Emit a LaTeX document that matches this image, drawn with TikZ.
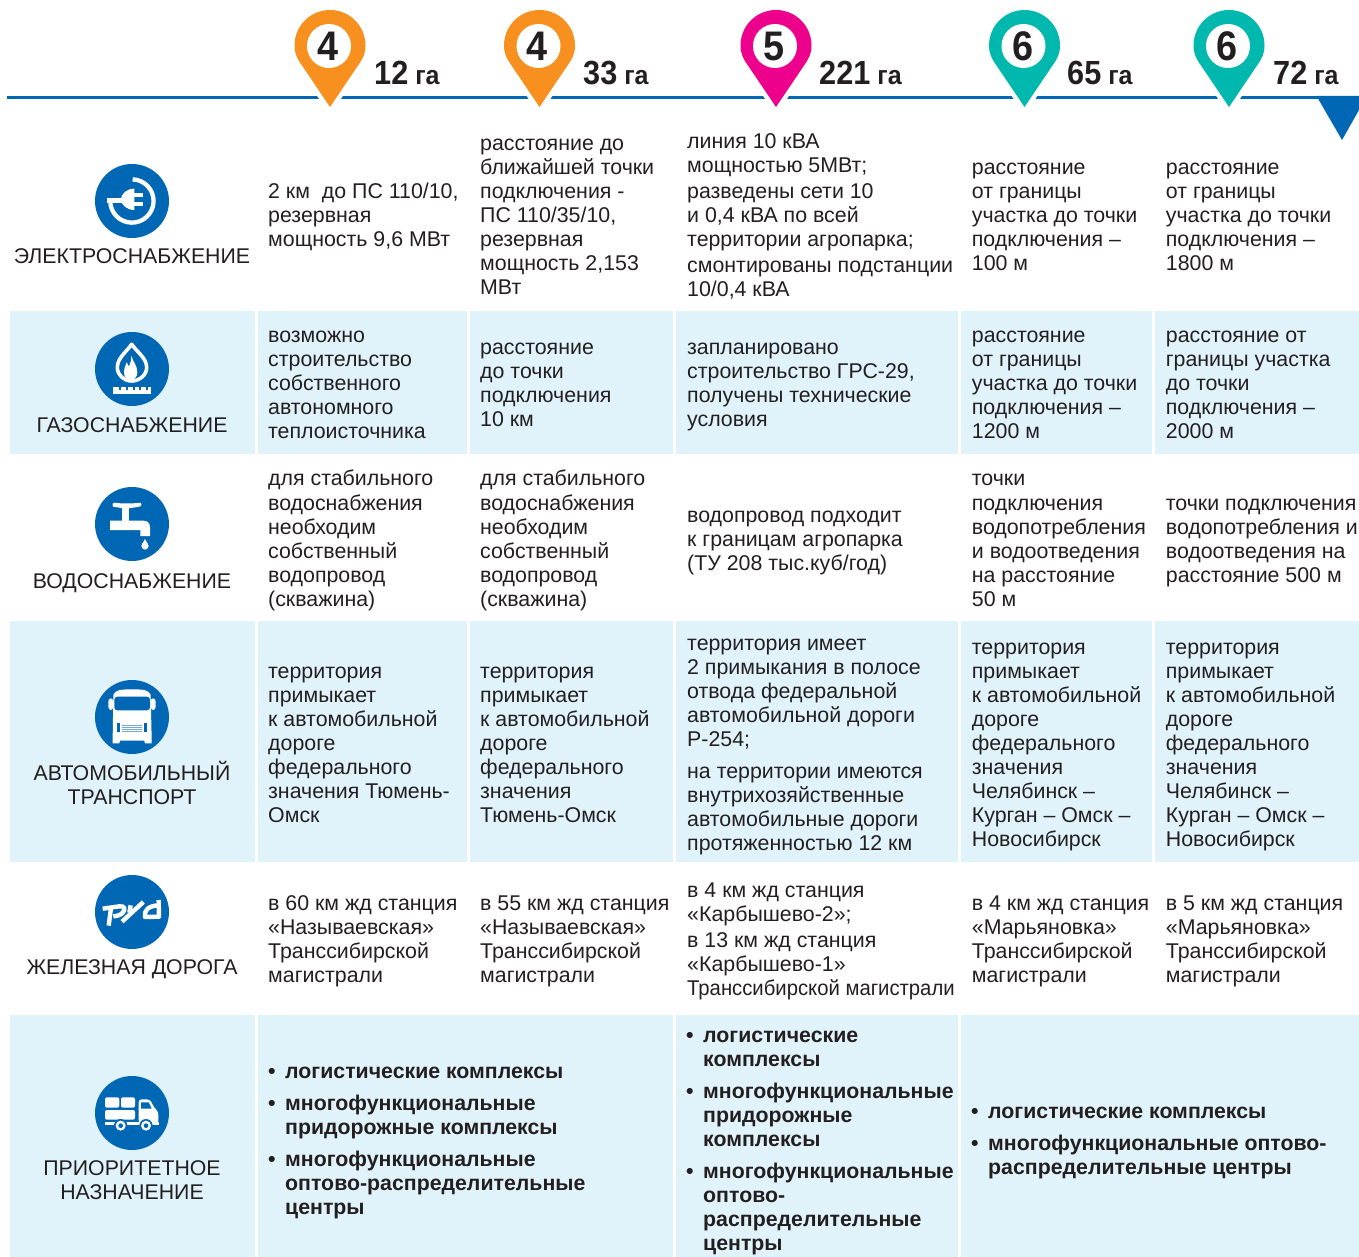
\documentclass[tikz,border=0pt]{standalone}
\usepackage{fontspec}
\setmainfont{Liberation Sans}
\definecolor{blu}{HTML}{0067B5}
\definecolor{lbl}{HTML}{E0F3FA}
\definecolor{ink}{HTML}{231F20}
\definecolor{org}{HTML}{F7901E}
\definecolor{mag}{HTML}{EC008C}
\definecolor{tea}{HTML}{00B8AD}
\newcommand{\tb}[4]{\node[tx] (#1) at (#2,#3-9.3) {\strut #4};}
\newcommand{\bl}[4]{\node[btx] (#1b) at (#2,#3-9.3) {\strut •}; \node[btx] (#1) at (#2+17,#3-9.3) {\strut #4};}
\newcommand{\rl}[3]{\node[rlab] (#1) at (132,#2) {#3};}
\newcommand{\pin}[7]{%
 \begin{scope}[shift={(#2,45.5)}]
 \fill[#3,preaction={draw=white,line width=9pt}] (0,61.5) -- (-28,20) .. controls (-33,13) and (-35.5,8) .. (-35.5,0) arc[start angle=180,end angle=360,radius=35.5] .. controls (35.5,8) and (33,13) .. (28,20) -- cycle;
 \node[circle,fill=white,minimum size=44pt,inner sep=0] (#1c) at (-1,0.5) {};
 \node[dig] (#1d) at (#7,0.5) {\scalebox{.97}[1.06]{#4}};
 \end{scope}
 \node[anchor=base west,inner sep=0,text=ink,font=\fontsize{31}{31}\selectfont\bfseries] (#1a) at (#5,85) {\scalebox{.99}[1.08]{#6}\fontsize{25}{25}\selectfont\ \scalebox{1}[1.05]{га}};
}
\tikzset{
 tx/.style={anchor=north west,inner sep=0,align=left,text=ink,font=\fontsize{21.35}{24}\selectfont},
 btx/.style={tx,font=\fontsize{21.3}{24}\selectfont\bfseries},
 rlab/.style={inner sep=0,align=center,text=ink,font=\fontsize{21.3}{24}\selectfont},
 dig/.style={inner sep=0,text=ink,font=\fontsize{39}{39}\selectfont\bfseries},
 cellbg/.style={fill=lbl},
 wl/.style={draw=white,line width=4.4pt},
}
\begin{document}
\begin{tikzpicture}[x=1pt,y=-1pt]
\useasboundingbox (0,0) rectangle (1359,1257);
\fill[white] (0,0) rectangle (1359,1257);
% header
\draw[blu,line width=3pt] (7,97.5) -- (1320,97.5);
\fill[blu] (1316.5,96) -- (1359,96) -- (1359,110) -- (1342,140) -- cycle;
\pin{p1}{330}{org}{4}{374}{12}{-2}
\pin{p2}{539.5}{org}{4}{583}{33}{-2}
\pin{p3}{776}{mag}{5}{819}{221}{-1.5}
\pin{p4}{1024.5}{tea}{6}{1067}{65}{-1.5}
\pin{p5}{1229}{tea}{6}{1273}{72}{-1.5}
% shaded rows
\foreach \a/\b in {10/255,258/467,470/673,676/958,961/1152,1155/1359}{
 \fill[cellbg] (\a,311) rectangle (\b,454);
 \fill[cellbg] (\a,621) rectangle (\b,862);}
\foreach \a/\b in {10/255,258/673,676/958,961/1359}{
 \fill[cellbg] (\a,1015) rectangle (\b,1257);}
% electricity icon
\fill[blu] (132,201) circle (37);
\begin{scope}[shift={(80,155)},scale=1/3]
 \draw[white,line width=4.3pt] (158,73) arc[start angle=-88,end angle=180,radius=65];
 \fill[white] (82,129) -- (128,129) -- (128,145) -- (82,145) -- cycle;
 \fill[white] (163,101) -- (163,165) .. controls (140,165) and (125,150) .. (122,133) .. controls (125,116) and (140,101) .. (163,101) -- cycle;
 \fill[white] (163,115) rectangle (188,126);
 \fill[white] (163,141) rectangle (188,152);
\end{scope}
% gas icon
\fill[blu] (132,369) circle (37);
\begin{scope}[shift={(80,325)},scale=1/3]
 \draw[white,line width=3.6pt,line join=round] (155,58) .. controls (135,85) and (112,100) .. (112,128) .. controls (112,150) and (132,168) .. (155,168) .. controls (178,168) and (200,150) .. (200,128) .. controls (200,100) and (175,85) .. (155,58) -- cycle;
 \fill[white] (154,92) .. controls (158,110) and (172,120) .. (172,142) .. controls (172,156) and (162,166) .. (152,166) .. controls (141,166) and (132,156) .. (132,142) .. controls (132,130) and (137,122) .. (140,112) .. controls (143,118) and (146,122) .. (147,125) .. controls (151,115) and (154,105) .. (154,92) -- cycle;
 \fill[white] (100,185) rectangle (213,208);
 \foreach \i in {1,...,5}{\fill[blu] (96+\i*20.6,185) rectangle (102+\i*20.6,196);}
\end{scope}
% water icon
\fill[blu] (132,524) circle (37);
\begin{scope}[shift={(80,480)},scale=1/3]
 \fill[white,rounded corners=2pt] (98,67) .. controls (115,70) and (125,70) .. (140,70) .. controls (155,70) and (170,70) .. (184,67) -- (184,80) .. controls (170,80) and (160,84) .. (147,84) -- (128,84) .. controls (120,84) and (110,80) .. (98,82) -- cycle;
 \fill[white] (127,82) rectangle (147,124);
 \fill[white] (90,122) -- (190,122) .. controls (203,122) and (210,130) .. (210,142) -- (210,168) -- (181,168) -- (181,150) -- (90,150) -- cycle;
 \fill[white] (195,177) .. controls (190,188) and (184,192) .. (184,198) .. controls (184,204) and (190,209) .. (195,209) .. controls (200,209) and (206,204) .. (206,198) .. controls (206,192) and (200,188) .. (195,177) -- cycle;
\end{scope}
% truck icon
\fill[blu] (132,717) circle (37);
\begin{scope}[shift={(80,675)},scale=1/3]
 \fill[white,rounded corners=3pt] (85,70) rectangle (100,105);
 \fill[white,rounded corners=3pt] (212,70) rectangle (227,105);
 \fill[white] (100,60) .. controls (105,45) and (120,43) .. (156,43) .. controls (192,43) and (207,45) .. (212,60) -- (215,190) -- (215,205) -- (195,205) -- (193,197) -- (120,197) -- (118,205) -- (98,205) -- (98,190) -- cycle;
 \fill[blu,rounded corners=3pt] (103,65) rectangle (210,106);
 \fill[blu] (110,143) rectangle (120,170);
 \fill[blu] (192,143) rectangle (202,170);
 \foreach \y in {149,155,161,167}{\fill[blu!55] (126,\y) rectangle (187,\y+3);}
\end{scope}
% rail icon
\fill[blu] (132,912) circle (37);
\begin{scope}[shift={(80,870)},scale=1/3]
 \draw[wl] (68,116) -- (118,109) .. controls (135,107) and (136,118) .. (129,127) .. controls (123,135) and (112,138) .. (100,139);
 \draw[wl] (93,114) -- (86,167);
 \draw[wl] (126,155) -- (190,96);
 \draw[wl] (152,106) -- (148,128);
 \draw[wl,line join=round] (236,90) -- (237,140) -- (195,141) .. controls (191,122) and (205,107) .. (236,106);
\end{scope}
% priority icon
\fill[blu] (132,1113) circle (37);
\begin{scope}[shift={(80,1070)},scale=1/3]
 \fill[white,rounded corners=2pt] (75,82) rectangle (118,113);
 \fill[white,rounded corners=2pt] (123,82) rectangle (165,113);
 \fill[white,rounded corners=2pt] (75,120) rectangle (165,149);
 \fill[white] (75,155) rectangle (238,165);
 \fill[white,rounded corners=3pt] (176,88) -- (210,88) -- (222,112) -- (235,125) -- (235,160) -- (176,160) -- cycle;
 \fill[blu] (183,97) -- (206,97) -- (215,116) -- (183,116) -- cycle;
 \foreach \x in {122,198}{
  \fill[blu] (\x,167) circle (20);
  \fill[white] (\x,167) circle (15);
  \fill[blu] (\x,167) circle (7);}
\end{scope}
% row labels
\rl{l1}{258.9}{\strut ЭЛЕКТРОСНАБЖЕНИЕ}
\rl{l2}{427.9}{\strut ГАЗОСНАБЖЕНИЕ}
\rl{l3}{583.9}{\strut ВОДОСНАБЖЕНИЕ}
\rl{l4}{786.9}{\strut АВТОМОБИЛЬНЫЙ\\\strut ТРАНСПОРТ}
\rl{l5}{969.9}{\strut ЖЕЛЕЗНАЯ ДОРОГА}
\rl{l6}{1182.9}{\strut ПРИОРИТЕТНОЕ\\\strut НАЗНАЧЕНИЕ}
% row 1
\tb{a1}{268}{191}{2 км\ \ до ПС 110/10,\\резервная\\мощность 9,6 МВт}
\tb{a2}{480}{143}{расстояние до\\ближайшей точки\\подключения -\\ПС 110/35/10,\\резервная\\мощность 2,153\\МВт}
\tb{a3}{687}{141}{линия 10 кВА\\мощностью 5МВт;}
\tb{a3x}{687}{191}{разведены сети 10\\и 0,4 кВА по всей\\территории агропарка;}
\tb{a3y}{687}{265}{смонтированы подстанции\\10/0,4 кВА}
\tb{a4}{971.7}{167}{расстояние\\от границы\\участка до точки\\подключения –\\100 м}
\tb{a5}{1165.7}{167}{расстояние\\от границы\\участка до точки\\подключения –\\1800 м}
% row 2
\tb{b1}{268}{335}{возможно\\строительство\\собственного\\автономного\\теплоисточника}
\tb{b2}{480}{347}{расстояние\\до точки\\подключения\\10 км}
\tb{b3}{687}{347}{запланировано\\строительство ГРС-29,\\получены технические\\условия}
\tb{b4}{971.7}{335}{расстояние\\от границы\\участка до точки\\подключения –\\1200 м}
\tb{b5}{1165.7}{335}{расстояние от\\границы участка\\до точки\\подключения –\\2000 м}
% row 3
\tb{c1}{268}{478}{для стабильного}
\tb{c1x}{268}{503}{водоснабжения\\необходим\\собственный\\водопровод\\(скважина)}
\tb{c2}{480}{478}{для стабильного}
\tb{c2x}{480}{503}{водоснабжения\\необходим\\собственный\\водопровод\\(скважина)}
\tb{c3}{687}{515}{водопровод подходит\\к границам агропарка\\(ТУ 208 тыс.куб/год)}
\tb{c4}{971.7}{478}{точки}
\tb{c4x}{971.7}{503}{подключения\\водопотребления\\и водоотведения\\на расстояние\\50 м}
\tb{c5}{1165.7}{503}{точки подключения\\водопотребления и\\водоотведения на\\расстояние 500 м}
% row 4
\tb{d1}{268}{671}{территория\\примыкает\\к автомобильной\\дороге\\федерального\\значения Тюмень-\\Омск}
\tb{d2}{480}{671}{территория\\примыкает\\к автомобильной\\дороге\\федерального\\значения\\Тюмень-Омск}
\tb{d3}{687}{643}{территория имеет\\2 примыкания в полосе\\отвода федеральной\\автомобильной дороги\\Р-254;}
\tb{d3x}{687}{771}{на территории имеются\\внутрихозяйственные\\автомобильные дороги\\протяженностью 12 км}
\tb{d4}{971.7}{647}{территория\\примыкает\\к автомобильной\\дороге\\федерального\\значения\\Челябинск –\\Курган – Омск –\\Новосибирск}
\tb{d5}{1165.7}{647}{территория\\примыкает\\к автомобильной\\дороге\\федерального\\значения\\Челябинск –\\Курган – Омск –\\Новосибирск}
% row 5
\tb{e1}{268}{903}{в 60 км жд станция\\«Называевская»\\Транссибирской\\магистрали}
\tb{e2}{480}{903}{в 55 км жд станция\\«Называевская»\\Транссибирской\\магистрали}
\tb{e3}{687}{890}{в 4 км жд станция\\«Карбышево-2»;}
\tb{e3x}{687}{940}{в 13 км жд станция\\«Карбышево-1»\\\scalebox{.95}[1]{Транссибирской магистрали}}
\tb{e4}{971.7}{903}{в 4 км жд станция\\«Марьяновка»\\Транссибирской\\магистрали}
\tb{e5}{1165.7}{903}{в 5 км жд станция\\«Марьяновка»\\Транссибирской\\магистрали}
% row 6
\bl{f1}{268}{1071}{логистические комплексы}
\bl{f2}{268}{1103}{многофункциональные\\придорожные комплексы}
\bl{f3}{268}{1159}{многофункциональные\\оптово-распределительные\\центры}
\bl{g1}{686}{1035}{логистические\\комплексы}
\bl{g2}{686}{1091}{многофункциональные\\придорожные\\комплексы}
\bl{g3}{686}{1171}{многофункциональные\\оптово-\\распределительные\\центры}
\bl{h1}{971}{1111}{логистические комплексы}
\bl{h2}{971}{1143}{многофункциональные оптово-\\распределительные центры}
\end{tikzpicture}
\end{document}
